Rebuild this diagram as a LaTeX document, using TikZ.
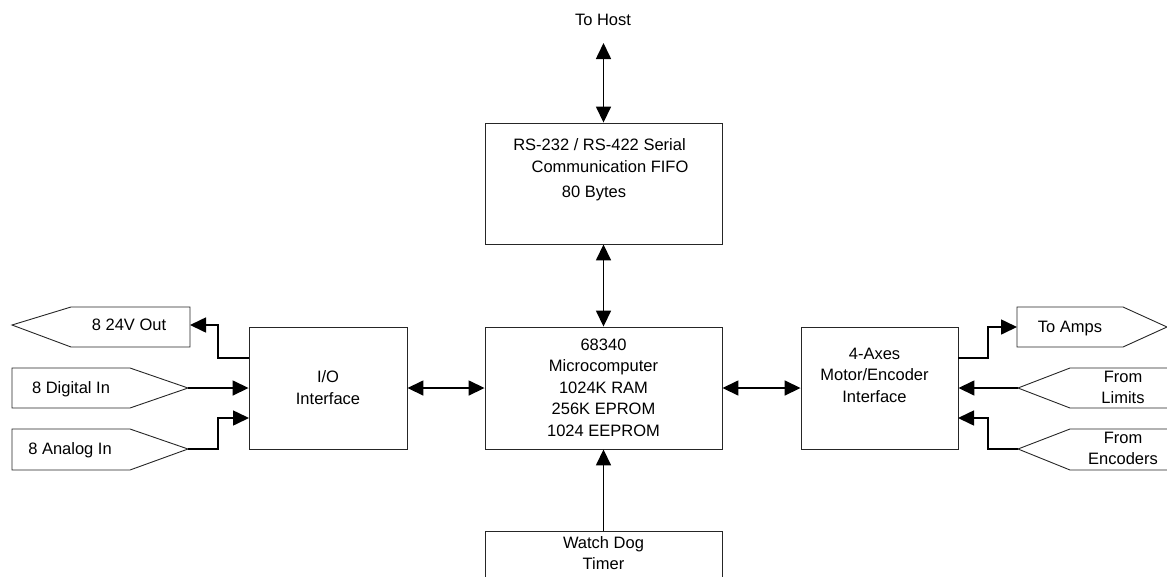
\documentclass[tikz,border=0pt]{standalone}
\usepackage{fontspec}
\setmainfont{Liberation Sans}
\usetikzlibrary{arrows.meta}
\begin{document}
\begin{tikzpicture}[x=1pt,y=-1pt,
  box/.style={draw=black!85,line width=0.9pt,fill=white,inner sep=0pt},
  txt/.style={font=\fontsize{16.5}{21.5}\selectfont,align=center,inner sep=0pt,text depth=0pt},
  conn/.style={line width=1.6pt,-{Triangle[length=16pt,width=15pt]}},
  bconn/.style={line width=1.6pt,{Triangle[length=16pt,width=15pt]}-{Triangle[length=16pt,width=15pt]}},
  sig/.style={draw=black!85,line width=0.9pt}]
\useasboundingbox (0,0) rectangle (1167,576);
% boxes
\node[box,minimum width=237pt,minimum height=121pt] (serial) at (603.5,183.5) {};
\node[box,minimum width=237pt,minimum height=122pt] (micro) at (603.5,388) {};
\node[box,minimum width=158pt,minimum height=122pt] (io) at (328,388) {};
\node[box,minimum width=157pt,minimum height=122pt] (motor) at (879.5,388) {};
\node[box,minimum width=237pt,minimum height=122pt] (watch) at (603.5,592) {};
% box texts
\node[txt] (hosttxt) at (603,20) {To Host};
\node[txt,anchor=base] (s1) at (599.5,150.5) {RS-232 / RS-422 Serial};
\node[txt,anchor=base] (s2) at (610,172.5) {Communication FIFO};
\node[txt,anchor=base] (s3) at (594,197.5) {80 Bytes};
\node[txt] (microtxt) at (603.5,387.5) {68340\\Microcomputer\\1024K RAM\\256K EPROM\\1024 EEPROM};
\node[txt] (iotxt) at (328,387.5) {I/O\\Interface};
\node[txt] (motortxt) at (874.5,375) {4-Axes\\Motor/Encoder\\Interface};
\node[txt] (watchtxt) at (603.5,553) {Watch Dog\\Timer};
% signal shapes (left)
\draw[sig] (12,325) -- (71,307) -- (190,307) -- (190,347) -- (71,347) -- cycle;
\coordinate (outR) at (190,325);
\node[txt] (outtxt) at (129,325) {8 24V Out};
\draw[sig] (12,368) -- (130,368) -- (188,388) -- (130,408) -- (12,408) -- cycle;
\coordinate (digT) at (188,388);
\node[txt] (digtxt) at (71,388) {8 Digital In};
\draw[sig] (12,429) -- (130,429) -- (188,449) -- (130,470) -- (12,470) -- cycle;
\coordinate (anaT) at (188,449);
\node[txt] (anatxt) at (70,449) {8 Analog In};
% signal shapes (right)
\draw[sig] (1017,307) -- (1123,307) -- (1167,327) -- (1123,347) -- (1017,347) -- cycle;
\coordinate (ampL) at (1017,327);
\node[txt] (amptxt) at (1070,327) {To Amps};
\draw[sig] (1180,368) -- (1070,368) -- (1018,388) -- (1070,408) -- (1180,408);
\coordinate (limT) at (1018,388);
\node[txt] (limtxt) at (1123,387.5) {From\\Limits};
\draw[sig] (1180,429) -- (1070,429) -- (1018,449) -- (1070,470) -- (1180,470);
\coordinate (encT) at (1018,449);
\node[txt] (enctxt) at (1123,448.5) {From\\Encoders};
% connectors
\coordinate (hostP) at (603.5,43);
\draw[bconn] (hostP) -- (serial.north);
\draw[bconn] (serial.south) -- (micro.north);
\draw[bconn] (io.east) -- (micro.west);
\draw[bconn] (micro.east) -- (motor.west);
\draw[conn] (watch.north) -- (micro.south);
% IO side
\coordinate (ioOut) at (249,358);
\coordinate (ioAna) at (249,418);
\draw[conn] (ioOut) -- (218,358) -- (218,325) -- (outR);
\draw[conn] (digT) -- (io.west);
\draw[conn] (anaT) -- (218,449) -- (218,418) -- (ioAna);
% motor side
\coordinate (mOut) at (958,358);
\coordinate (mEnc) at (958,418);
\draw[conn] (mOut) -- (988,358) -- (988,327) -- (ampL);
\draw[conn] (limT) -- (motor.east);
\draw[conn] (encT) -- (988,449) -- (988,418) -- (mEnc);
\end{tikzpicture}
\end{document}
